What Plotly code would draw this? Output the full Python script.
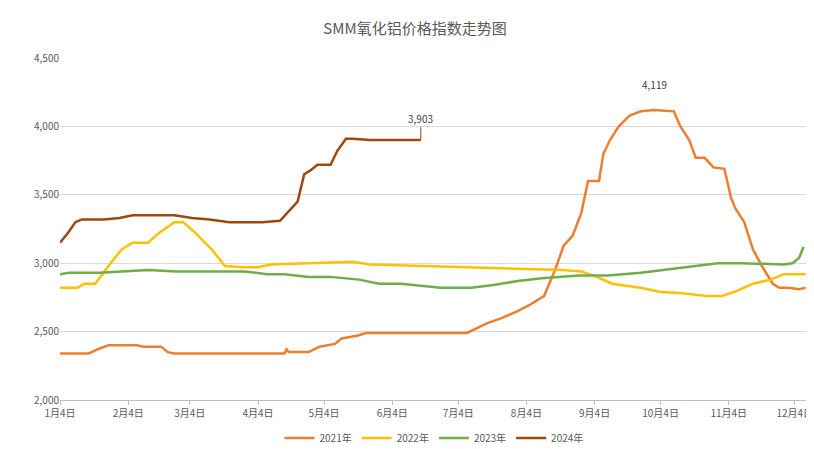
import plotly.graph_objects as go

d21 = ["01-04","01-17","01-21","01-26","02-08","02-11","02-19","02-22","02-25","04-03","04-16","04-17","04-18","04-27","05-02","05-09","05-12","05-19","05-23","07-08","07-12","07-17","07-24","07-31","08-06","08-12","08-17","08-21","08-25","08-29","09-01","09-06","09-08","09-11","09-15","09-20","09-25","10-01","10-10","10-13","10-17","10-20","10-24","10-28","11-02","11-05","11-07","11-11","11-15","11-19","11-24","11-27","12-01","12-06","12-09"]
v21 = [2340,2340,2370,2400,2400,2390,2390,2350,2340,2340,2340,2370,2350,2350,2390,2410,2450,2470,2490,2490,2520,2560,2600,2650,2700,2760,2950,3130,3200,3370,3600,3600,3800,3900,4000,4080,4110,4119,4110,4000,3900,3770,3770,3700,3690,3480,3400,3300,3100,2980,2850,2820,2820,2810,2820]

d22 = ["01-04","01-12","01-15","01-20","01-27","02-01","02-06","02-13","02-18","02-25","03-01","03-06","03-14","03-20","03-28","04-04","04-10","04-28","05-08","05-17","05-25","07-25","08-20","08-29","09-05","09-12","09-25","10-04","10-14","10-25","11-01","11-08","11-15","11-23","11-29","12-09"]
v22 = [2820,2820,2850,2850,3000,3100,3150,3150,3220,3300,3300,3230,3100,2980,2970,2970,2990,3000,3010,3010,2990,2960,2950,2940,2900,2850,2820,2790,2780,2760,2760,2800,2850,2880,2920,2920]

d23 = ["01-04","01-08","01-22","02-02","02-13","02-26","03-29","04-08","04-16","04-27","05-07","05-20","05-29","06-08","06-26","07-10","07-20","07-31","08-11","08-28","09-10","09-25","10-30","11-10","11-29","12-03","12-06","12-08"]
v23 = [2920,2930,2930,2940,2950,2940,2940,2920,2920,2900,2900,2880,2850,2850,2820,2820,2840,2870,2890,2910,2910,2930,3000,3000,2990,3000,3040,3120]

d24 = ["01-04","01-08","01-11","01-14","01-24","01-31","02-06","02-25","03-05","03-13","03-22","04-06","04-14","04-19","04-22","04-25","04-28","05-01","05-07","05-10","05-14","05-17","05-25","06-17"]
v24 = [3150,3230,3300,3320,3320,3330,3350,3350,3330,3320,3300,3300,3310,3400,3450,3650,3680,3720,3720,3820,3910,3910,3900,3900]

series = [("2021年", d21, v21, "#ED7D31"), ("2022年", d22, v22, "#FFC000"),
          ("2023年", d23, v23, "#70AD47"), ("2024年", d24, v24, "#9E480E")]

tickvals = ["2021-%02d-04" % m for m in range(1, 13)]
ticktext = ["%d月4日" % m for m in range(1, 13)]

fig = go.Figure()
for name, d, v, c in series:
    fig.add_trace(go.Scatter(x=["2021-" + s for s in d], y=v, name=name, mode="lines",
                             line=dict(color=c, width=2.5)))

fig.add_annotation(x="2021-06-17", y=3900, text="3,903", showarrow=True, ax=0, ay=-22,
                   arrowhead=0, arrowcolor="#9E480E", font=dict(size=10, color="#404040"))
fig.add_annotation(x="2021-10-01", y=4119, text="4,119", showarrow=False, yshift=26,
                   font=dict(size=10, color="#404040"))

fig.update_layout(
    width=814, height=449, paper_bgcolor="white", plot_bgcolor="white",
    margin=dict(l=52, r=14, t=50, b=57, autoexpand=False),
    font=dict(family="Noto Sans CJK SC", size=10, color="#595959"),
    title=dict(text="SMM氧化铝价格指数走势图", x=0.5, y=0.965, font=dict(size=15, color="#595959")),
    legend=dict(orientation="h", x=0.5, xanchor="center", yref="container", y=0.01,
                yanchor="bottom", font=dict(size=10)),
    xaxis=dict(range=["2021-01-04", "2021-12-10"], tickvals=tickvals, ticktext=ticktext,
               showgrid=False, showline=True, linecolor="#BFBFBF", ticks="outside",
               tickcolor="#BFBFBF", ticklen=4, tickfont=dict(size=10)),
    yaxis=dict(range=[2000, 4500], dtick=500, tickformat=",", gridcolor="#D9D9D9",
               zeroline=False, tickfont=dict(size=10)),
)
fig.write_html("out.html")
